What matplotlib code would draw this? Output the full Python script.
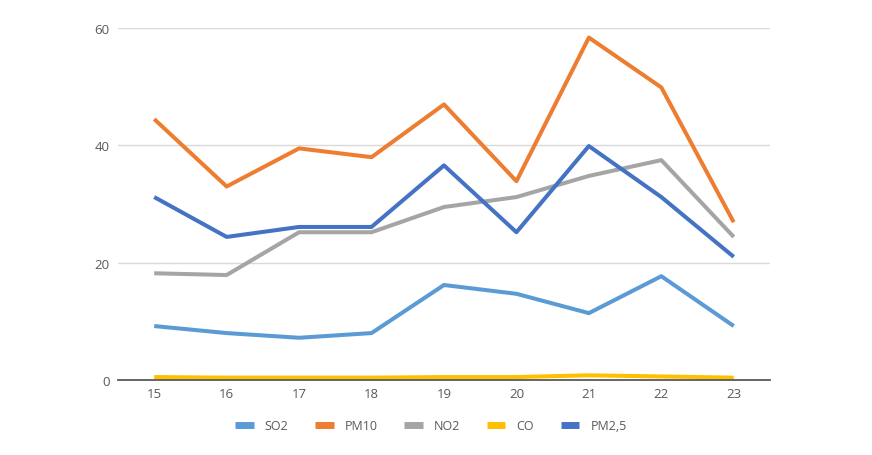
import matplotlib
matplotlib.use("Agg")
import matplotlib.pyplot as plt

days = [15, 16, 17, 18, 19, 20, 21, 22, 23]
so2 = [9.2, 8.0, 7.2, 8.0, 16.2, 14.7, 11.4, 17.7, 9.2]
pm10 = [44.5, 33.0, 39.5, 38.0, 47.0, 33.9, 58.4, 49.9, 26.9]
no2 = [18.2, 17.9, 25.2, 25.2, 29.5, 31.2, 34.8, 37.5, 24.4]
co = [0.5, 0.4, 0.4, 0.4, 0.5, 0.5, 0.8, 0.6, 0.4]
pm25 = [31.2, 24.4, 26.1, 26.1, 36.6, 25.2, 39.9, 31.2, 21.0]

series = [("SO2", so2, "#5B9BD5"), ("PM10", pm10, "#ED7D31"),
          ("NO2", no2, "#A5A5A5"), ("CO", co, "#FFC000"),
          ("PM2,5", pm25, "#4472C4")]

plt.rcParams['font.family'] = ['Open Sans', 'DejaVu Sans']

fig = plt.figure(figsize=(8.72, 4.56), dpi=100)
ax = fig.add_axes([0.1353, 0.1645, 0.7477, 0.7715])

for name, vals, col in series:
    ax.plot(days, vals, color=col, linewidth=2.9, label=name, solid_capstyle='butt')

ax.set_xlim(14.5, 23.5)
ax.set_ylim(0, 60)
ax.set_yticks([0, 20, 40, 60])
ax.set_xticks(days)
ax.grid(axis='y', color='#D9D9D9', linewidth=1)
ax.set_axisbelow(True)
for s in ['left', 'right', 'top']:
    ax.spines[s].set_visible(False)
ax.spines['bottom'].set_color('#595959')
ax.spines['bottom'].set_linewidth(1.3)
ax.tick_params(axis='both', length=0, labelsize=9.5, colors='#595959')
ax.tick_params(axis='y', pad=6)
ax.tick_params(axis='x', pad=5)

leg = fig.legend(loc='center', bbox_to_anchor=(0.494, 0.064), ncol=5, frameon=False,
                 fontsize=9, handlelength=1.5, columnspacing=2.1, handletextpad=0.9)
for line in leg.get_lines():
    line.set_linewidth(5)
for t in leg.get_texts():
    t.set_color('#595959')

fig.savefig("out.png", dpi=100)
